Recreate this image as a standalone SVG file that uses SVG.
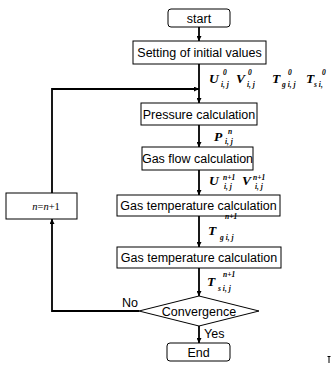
<svg xmlns="http://www.w3.org/2000/svg" width="331" height="365" viewBox="0 0 331 365">
<defs>
<marker id="ah" viewBox="0 0 10 10" refX="10" refY="5" markerWidth="5" markerHeight="5" orient="auto" markerUnits="userSpaceOnUse">
<path d="M0,0 L10,5 L0,10 z" fill="#000"/>
</marker>
<style>
.box{fill:#fff;stroke:#000;stroke-width:1}
.lbl{font-family:"Liberation Sans",Arial,sans-serif;font-size:12.5px;fill:#000;text-anchor:middle}
.cn{fill:none;stroke:#000;stroke-width:1.8}
.m{font-family:"Liberation Serif","Times New Roman",serif;font-size:13.5px;font-weight:bold;font-style:italic;fill:#000}
.s{font-family:"Liberation Serif","Times New Roman",serif;font-size:7.5px;font-weight:bold;font-style:italic;fill:#000}
.yn{font-family:"Liberation Sans",Arial,sans-serif;font-size:12.5px;fill:#000}
</style>
</defs>
<rect width="331" height="365" fill="#fff"/>
<g id="connectors">
<line class="cn" x1="199" y1="27" x2="199" y2="41" marker-end="url(#ah)"/>
<line class="cn" x1="199" y1="64" x2="199" y2="103" marker-end="url(#ah)"/>
<line class="cn" x1="199" y1="125" x2="199" y2="147" marker-end="url(#ah)"/>
<line class="cn" x1="199" y1="170" x2="199" y2="195" marker-end="url(#ah)"/>
<line class="cn" x1="199" y1="216" x2="199" y2="247" marker-end="url(#ah)"/>
<line class="cn" x1="199" y1="268" x2="199" y2="296" marker-end="url(#ah)"/>
<line class="cn" x1="199" y1="326" x2="199" y2="343" marker-end="url(#ah)"/>
<polyline class="cn" points="139,311 52,311 52,219" marker-end="url(#ah)"/>
<polyline class="cn" points="52,193 52,89 199,89" marker-end="url(#ah)"/>
</g>
<g id="start">
<rect class="box" x="168" y="9" width="62" height="18" rx="3"/>
<text class="lbl" x="199" y="22.5">start</text>
</g>
<g id="init">
<rect class="box" x="133" y="41" width="133" height="23"/>
<text class="lbl" x="199.5" y="57">Setting of initial values</text>
</g>
<g id="pressure">
<rect class="box" x="141" y="103" width="116" height="22"/>
<text class="lbl" x="199" y="118.5">Pressure calculation</text>
</g>
<g id="gasflow">
<rect class="box" x="142" y="147" width="111" height="23"/>
<text class="lbl" x="197.5" y="163">Gas flow calculation</text>
</g>
<g id="gastemp1">
<rect class="box" x="117" y="195" width="163" height="21"/>
<text class="lbl" x="198.5" y="210">Gas temperature calculation</text>
</g>
<g id="gastemp2">
<rect class="box" x="117" y="247" width="164" height="21"/>
<text class="lbl" x="199" y="262">Gas temperature calculation</text>
</g>
<g id="update">
<rect class="box" x="6" y="193" width="71" height="26"/>
<text x="46" y="210" font-family="'Liberation Serif','Times New Roman',serif" font-size="10.5" text-anchor="middle"><tspan font-style="italic">n</tspan>=<tspan font-style="italic">n</tspan>+1</text>
</g>
<g id="convergence">
<polygon class="box" points="199,296 259,311 199,326 139,311"/>
<text class="lbl" x="199" y="315.5">Convergence</text>
</g>
<g id="end">
<rect class="box" x="167" y="343" width="63" height="18" rx="3"/>
<text class="lbl" x="198.5" y="356.5">End</text>
</g>
<g id="labels">
<text class="yn" x="122" y="307">No</text>
<text class="yn" x="204" y="338">Yes</text>
<text class="m" x="209" y="83">U</text><text class="s" x="223" y="75">0</text><text class="s" x="221" y="87">i, j</text>
<text class="m" x="236" y="83">V</text><text class="s" x="248" y="75">0</text><text class="s" x="247" y="87">i, j</text>
<text class="m" x="272" y="83">T</text><text class="s" x="288" y="75">0</text><text class="s" x="282" y="87">g i, j</text>
<text class="m" x="306" y="83">T</text><text class="s" x="322" y="75">0</text><text class="s" x="314" y="87">s i,</text>
<text class="m" x="214" y="141">P</text><text class="s" x="228" y="134">n</text><text class="s" x="225" y="144">i, j</text>
<text class="m" x="209" y="185">U</text><text class="s" x="223" y="180">n+1</text><text class="s" x="224" y="189">i, j</text>
<text class="m" x="242" y="185">V</text><text class="s" x="253" y="180">n+1</text><text class="s" x="255" y="189">i, j</text>
<text class="m" x="208" y="235">T</text><text class="s" x="225" y="219">n+1</text><text class="s" x="220" y="240">g i, j</text>
<text class="m" x="207" y="286">T</text><text class="s" x="223" y="277">n+1</text><text class="s" x="218" y="291">s i, j</text>
</g>
<path d="M327.5,356.5 H330.5 M329,356.5 V363" stroke="#000" stroke-width="1" fill="none"/>
</svg>
